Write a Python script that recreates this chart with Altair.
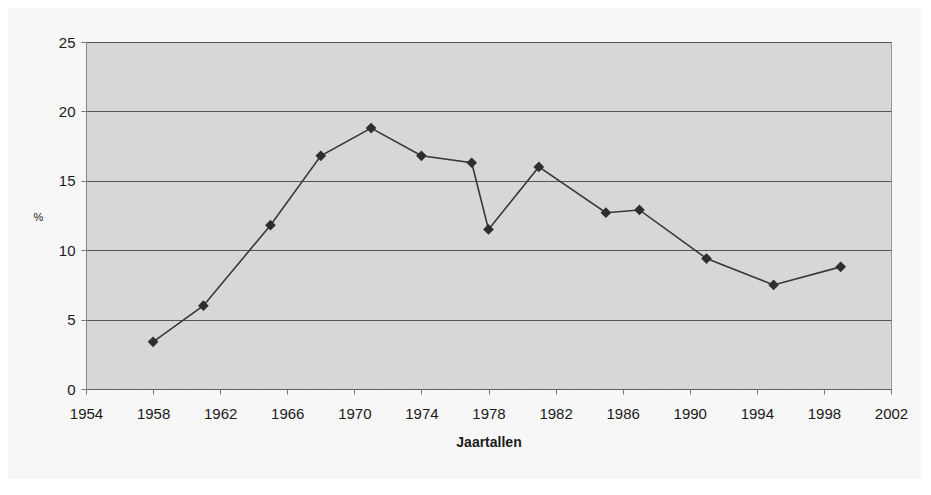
import altair as alt
import pandas as pd

years = [1958, 1961, 1965, 1968, 1971, 1974, 1977, 1978, 1981, 1985, 1987, 1991, 1995, 1999]
values = [3.4, 6.0, 11.8, 16.8, 18.8, 16.8, 16.3, 11.5, 16.0, 12.7, 12.9, 9.4, 7.5, 8.8]
x_ticks = list(range(1954, 2003, 4))
y_ticks = [0, 5, 10, 15, 20, 25]

df = pd.DataFrame({"jaar": years, "pct": values})

font = "Liberation Sans"

x = alt.X("jaar:Q", scale=alt.Scale(domain=[1954, 2002], nice=False, zero=False),
          axis=alt.Axis(values=x_ticks, format="d", title="Jaartallen", grid=False,
                        labelFlush=False, labelOverlap=False,
                        labelFontSize=15, labelColor="#1a1a1a", labelFont=font,
                        labelPadding=12, tickSize=5, tickColor="#777",
                        domainColor="#666", domainDash=[2, 1],
                        titleFont=font, titleFontSize=14, titleFontWeight="bold",
                        titleColor="#1a1a1a", titlePadding=14))
y = alt.Y("pct:Q", scale=alt.Scale(domain=[0, 25], nice=False),
          axis=alt.Axis(values=y_ticks, title="%", titleAngle=0, titleX=-48, titleY=180,
                        titleFont=font, titleFontSize=11, titleFontWeight="normal",
                        titleColor="#1a1a1a",
                        labelFontSize=15, labelColor="#1a1a1a", labelFont=font,
                        labelPadding=6, tickSize=5, tickColor="#777",
                        gridColor="#555", gridWidth=1, domainColor="#888"))

line = alt.Chart(df).mark_line(color="#383838", strokeWidth=1.6).encode(x=x, y=y)
pts = alt.Chart(df).mark_point(shape="diamond", filled=True, color="#2e2e2e", size=115, opacity=1).encode(x=x, y=y)

chart = (line + pts).properties(
    width=805, height=347,
    autosize=alt.AutoSizeParams(type="none"),
    padding={"left": 78, "top": 34, "right": 30, "bottom": 90},
    background="#f7f7f7",
).configure_view(fill="#d7d7d7", stroke="#999", strokeWidth=1)

chart.save("out.html", embed_options={"renderer": "svg", "actions": False})
